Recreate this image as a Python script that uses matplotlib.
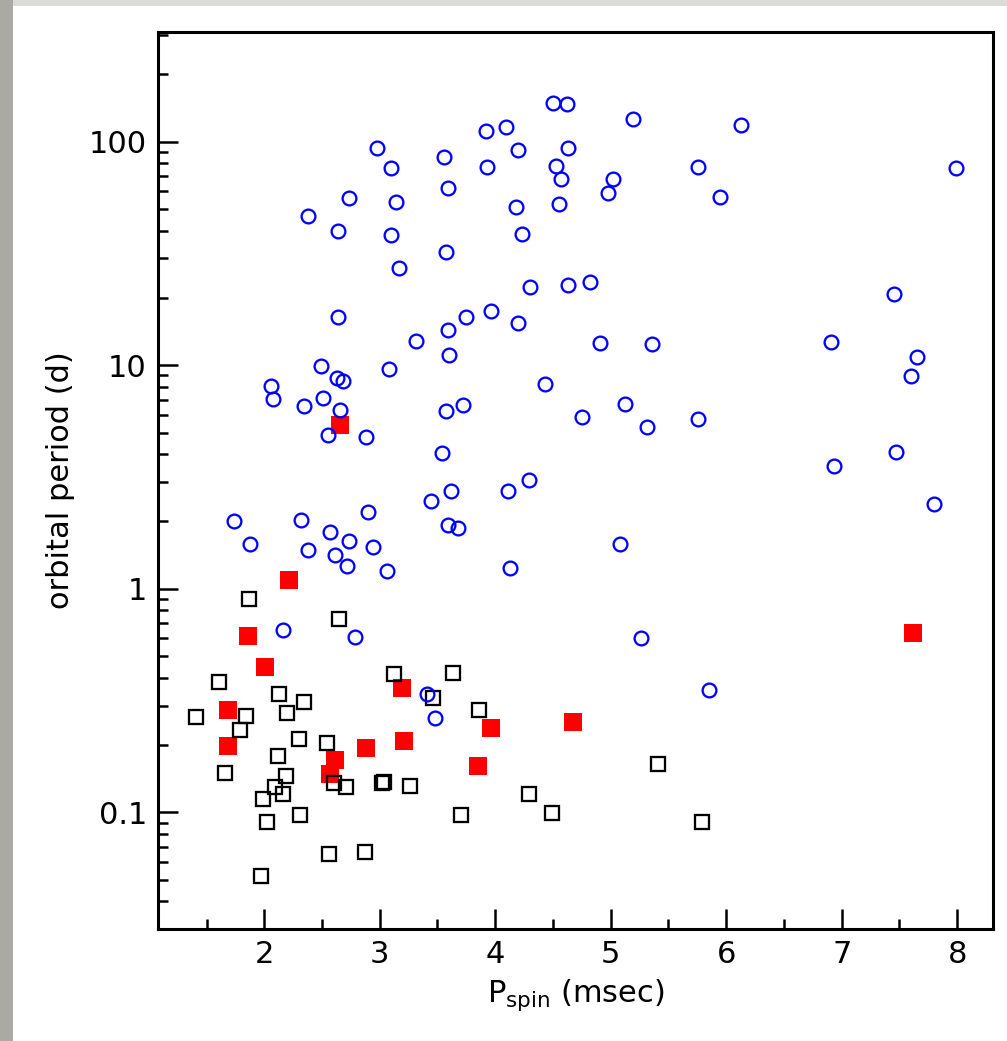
import numpy as np
import matplotlib
matplotlib.use("Agg")
import matplotlib.pyplot as plt
from matplotlib.patches import Rectangle
from matplotlib.ticker import MultipleLocator, LogLocator, NullFormatter, FixedLocator, FixedFormatter

# binary pulsars with orbits (open blue circles)
blue_pspin = [4.50, 4.62, 3.92, 4.09, 5.19, 6.13, 2.98, 3.56, 4.20, 4.63,
              3.10, 3.93, 4.53, 5.76, 7.99, 4.57, 5.02, 4.98, 5.95, 2.73,
              3.14, 3.59, 4.18, 4.55, 2.38, 2.64, 3.10, 4.23, 3.57, 3.17,
              4.30, 4.63, 4.82, 7.45, 2.64, 3.75, 3.96, 4.20, 3.59, 3.31,
              4.91, 5.36, 6.91, 3.60, 7.65, 7.60, 2.49, 3.08, 2.63, 2.68,
              4.43, 2.06, 2.08, 2.51, 2.34, 2.66, 3.57, 3.72, 4.75, 5.12,
              5.31, 5.76, 2.55, 2.88, 3.54, 7.47, 6.93, 4.29, 3.62, 4.11,
              3.44, 2.90, 7.80, 1.74, 2.32, 3.59, 3.68, 2.57, 1.88, 2.73,
              2.94, 2.38, 5.08, 2.61, 2.72, 3.06, 4.13, 2.16, 2.79, 5.26,
              5.85, 3.41, 3.48]
blue_porb = [149.5, 147.9, 111.2, 116.2, 126.8, 118.3, 93.3, 85.3, 91.4, 93.6,
             76.5, 76.7, 77.8, 76.7, 76.5, 68.0, 68.0, 58.7, 56.5, 55.9,
             53.9, 61.8, 51.0, 52.8, 46.3, 39.8, 38.2, 38.8, 32.2, 27.1,
             22.3, 22.8, 23.5, 20.9, 16.4, 16.4, 17.4, 15.5, 14.4, 12.8,
             12.6, 12.4, 12.7, 11.1, 10.9, 8.98, 9.95, 9.58, 8.79, 8.49,
             8.21, 8.09, 7.08, 7.15, 6.54, 6.32, 6.21, 6.63, 5.86, 6.70,
             5.27, 5.76, 4.87, 4.79, 4.06, 4.08, 3.55, 3.08, 2.73, 2.73,
             2.47, 2.21, 2.40, 2.02, 2.04, 1.93, 1.87, 1.79, 1.59, 1.63,
             1.54, 1.49, 1.58, 1.41, 1.26, 1.20, 1.24, 0.652, 0.610, 0.605,
             0.354, 0.337, 0.264]

# filled red squares
red_pspin = [2.66, 2.21, 1.86, 2.01, 3.19, 1.69, 3.96, 1.69, 2.88, 3.21,
             2.61, 3.85, 2.57, 4.67, 7.62]
red_porb = [5.40, 1.10, 0.615, 0.449, 0.361, 0.288, 0.239, 0.198, 0.194, 0.208,
            0.172, 0.162, 0.149, 0.255, 0.636]

# open black squares
black_pspin = [1.87, 2.65, 3.12, 3.63, 1.61, 3.46, 2.13, 2.34, 3.86, 1.41,
               1.84, 2.20, 1.79, 2.30, 2.54, 2.12, 1.66, 2.19, 2.60, 2.71,
               3.04, 3.02, 3.26, 2.09, 2.16, 1.99, 4.29, 4.49, 2.31, 2.02,
               3.70, 5.41, 5.79, 2.56, 2.87, 1.97]
black_porb = [0.900, 0.731, 0.417, 0.421, 0.384, 0.324, 0.338, 0.311, 0.286, 0.268,
              0.271, 0.278, 0.234, 0.212, 0.205, 0.179, 0.150, 0.146, 0.1355, 0.1295,
              0.1373, 0.1355, 0.1314, 0.130, 0.121, 0.115, 0.1205, 0.0995, 0.0978, 0.091,
              0.0978, 0.165, 0.091, 0.0652, 0.0666, 0.052]

y_ticks = [0.1, 1, 10, 100]
y_ticklabels = ["0.1", "1", "10", "100"]
x_ticks = [2, 3, 4, 5, 6, 7, 8]

W, H = 1007, 1041
fig = plt.figure(figsize=(W / 100, H / 100), dpi=100)
fig.patch.set_facecolor("#dcdcd6")
# photo-frame style border: darker strip on the left, light strip on top
fig.add_artist(Rectangle((0, 0), 13 / W, 1, transform=fig.transFigure,
                         facecolor="#aaaaa2", edgecolor="none", zorder=0))
fig.add_artist(Rectangle((13 / W, 0), 1 - 13 / W, 1 - 6 / H, transform=fig.transFigure,
                         facecolor="white", edgecolor="none", zorder=0))

ax = fig.add_axes([158 / W, 1 - 928.7 / H, (993 - 158) / W, (928.7 - 31.7) / H])
ax.set_facecolor("white")

ax.plot(red_pspin, red_porb, linestyle="none", marker="s", markersize=12.4,
        markerfacecolor="red", markeredgecolor="red", markeredgewidth=0)
ax.plot(black_pspin, black_porb, linestyle="none", marker="s", markersize=9.6,
        markerfacecolor="none", markeredgecolor="black", markeredgewidth=1.65)
ax.plot(blue_pspin, blue_porb, linestyle="none", marker="o", markersize=9.9,
        markerfacecolor="none", markeredgecolor="blue", markeredgewidth=1.65)

ax.set_yscale("log")
ax.set_xlim(1.08, 8.31)
ax.set_ylim(0.0302, 310)

ax.yaxis.set_major_locator(FixedLocator(y_ticks))
ax.yaxis.set_major_formatter(FixedFormatter(y_ticklabels))
ax.yaxis.set_minor_locator(LogLocator(base=10, subs=np.arange(2, 10)))
ax.yaxis.set_minor_formatter(NullFormatter())
ax.xaxis.set_major_locator(FixedLocator(x_ticks))
ax.xaxis.set_minor_locator(MultipleLocator(0.5))

for s in ax.spines.values():
    s.set_linewidth(2.2)

ax.tick_params(which="both", direction="in", top=False, right=False, width=1.8,
               labelsize=22)
ax.tick_params(which="major", length=14.5, pad=8)
ax.tick_params(which="minor", length=7.5)

ax.set_xlabel(r"P$_{\mathrm{spin}}$ (msec)", fontsize=22, labelpad=6)
ax.set_ylabel("orbital period (d)", fontsize=22, labelpad=10)

fig.savefig("out.png", dpi=100, facecolor=fig.get_facecolor())
